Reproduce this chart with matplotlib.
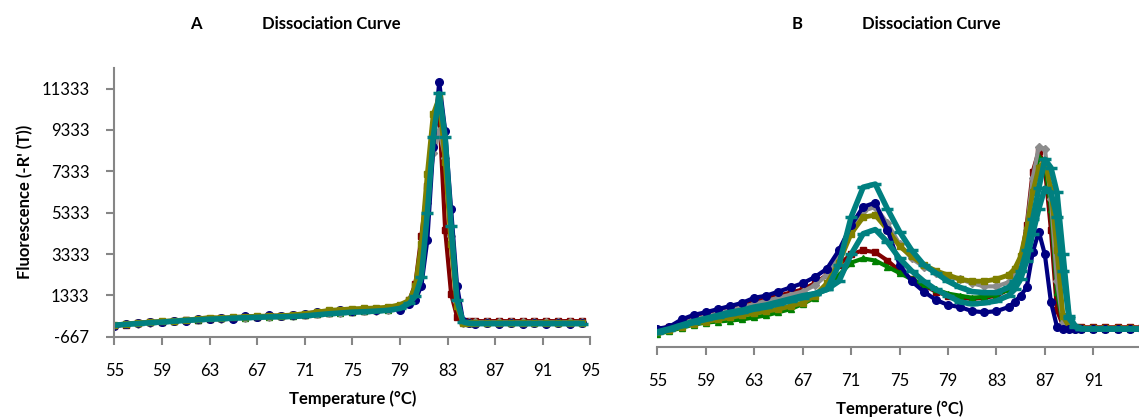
import numpy as np
import matplotlib.pyplot as plt

plt.rcParams['font.family'] = ['Lato', 'DejaVu Sans']
plt.rcParams['axes.unicode_minus'] = False

# ---- panel A data (temperature in C, fluorescence -R'(T)) ----
temp_a = [55, 56, 57, 58, 59, 60, 61, 62, 63, 64, 65, 66, 67, 68, 69, 70, 71, 72, 73, 74,
          75, 76, 77, 78, 79, 79.8, 80.3, 80.8, 81.3, 81.8, 82.3, 82.8, 83.3, 83.8, 84.3,
          84.8, 85.3, 86.3, 87.3, 88.3, 89.3, 90.3, 91.3, 92.3, 93.3, 94.3]

a_maroon = [-160, -80, 0, 50, 60, 80, 140, 150, 200, 220, 240, 290, 300, 330, 320, 360, 400,
            450, 500, 560, 520, 580, 610, 660, 760, 1100, 1900, 4200, 6600, 9200, 10200, 4500,
            1400, 300, 60, 80, 90, 80, 90, 80, 90, 80, 90, 80, 90, 80]
a_green = [-120, -60, -20, 20, 60, 100, 120, 150, 190, 220, 230, 260, 300, 280, 330, 340, 380,
           430, 470, 500, 530, 560, 600, 640, 750, 1000, 1600, 3400, 6400, 9400, 10600, 8400,
           4400, 1200, 30, 0, 0, 10, 0, 10, 0, 10, 0, 10, 0, 0]
a_gray = [-130, -70, -30, 10, 50, 90, 110, 160, 190, 200, 240, 260, 290, 300, 320, 330, 360,
          420, 460, 500, 540, 560, 590, 640, 720, 1000, 1500, 3000, 5800, 8200, 9300, 8000,
          4200, 1000, 0, 20, 30, 20, 30, 20, 30, 20, 30, 20, 30, 20]
a_olive = [-100, -50, 0, 40, 70, 110, 140, 190, 260, 240, 270, 300, 320, 330, 350, 380, 450,
           520, 600, 640, 680, 700, 720, 760, 880, 1100, 1800, 3800, 7200, 10100, 10900, 7800,
           3800, 800, -20, -10, 0, -10, 0, -10, 0, -10, 0, -10, 0, -10]
a_navy = [-140, -60, -10, 30, 30, 90, 110, 180, 170, 250, 200, 320, 280, 360, 330, 380, 440,
          520, 560, 620, 560, 650, 600, 700, 640, 900, 1100, 1800, 4000, 8500, 11650, 9300,
          5500, 1800, 100, -20, -30, -20, -30, -20, -30, -20, -30, -20, -30, -20]
a_teal = [-110, -70, -30, 10, 40, 80, 120, 150, 180, 200, 230, 250, 270, 290, 300, 310, 340,
          390, 440, 480, 520, 540, 570, 610, 700, 950, 1300, 2200, 5300, 9000, 11100, 9000,
          4700, 1100, 60, -20, -30, -30, -30, -30, -30, -30, -30, -30, -30, -30]

# ---- panel B data ----
temp_b = [55, 56, 57, 58, 59, 60, 61, 62, 63, 64, 65, 66, 67, 68, 69, 70, 71, 72, 73, 74,
          75, 76, 77, 78, 79, 80, 81, 82, 83, 84, 84.5, 85, 85.5, 86, 86.5, 87, 87.5, 88,
          88.5, 89, 89.5, 90, 91, 92, 93, 94, 95]

b_maroon = [150, 300, 500, 750, 900, 1050, 1200, 1350, 1500, 1650, 1800, 1950, 2100, 2400,
            2800, 3300, 3800, 4000, 3900, 3500, 3000, 2600, 2300, 2000, 1800, 1700, 1650, 1700,
            1800, 2100, 2600, 3500, 5200, 7800, 8800, 8000, 5000, 1100, 350, 300, 280, 270,
            270, 270, 270, 270, 270]
b_green = [-50, 80, 250, 400, 500, 550, 600, 650, 750, 850, 1000, 1150, 1400, 1700, 2200,
           2800, 3400, 3600, 3500, 3200, 2900, 2600, 2300, 2100, 1900, 1800, 1700, 1750, 1850,
           2100, 2500, 3300, 5000, 7200, 8500, 8300, 6000, 2000, 400, 250, 200, 200, 200, 200,
           200, 200, 200]
b_gray = [100, 250, 450, 650, 800, 950, 1100, 1250, 1400, 1550, 1700, 1850, 2000, 2300, 2800,
          3700, 5000, 5900, 6100, 5300, 4300, 3600, 3200, 2900, 2700, 2600, 2400, 2250, 2250,
          2450, 2800, 3300, 5000, 7500, 9000, 8900, 6500, 2500, 500, 250, 200, 180, 180, 180,
          180, 180, 180]
b_olive = [50, 150, 300, 450, 550, 650, 750, 850, 950, 1050, 1150, 1300, 1450, 1800, 2400,
           3400, 4800, 5600, 5700, 5000, 4200, 3700, 3300, 3000, 2800, 2600, 2500, 2500, 2600,
           2800, 3100, 3700, 5000, 6800, 8000, 8300, 7000, 4000, 800, 300, 250, 220, 220, 220,
           220, 220, 220]
b_navy = [200, 300, 650, 870, 1000, 1150, 1300, 1450, 1700, 1800, 2000, 2200, 2400, 2700,
          3100, 4000, 5200, 6100, 6300, 5000, 3300, 2500, 2000, 1600, 1350, 1250, 1050, 1000,
          1050, 1250, 1500, 1800, 2200, 3900, 4900, 3800, 1500, 300, 200, 180, 170, 170, 170,
          170, 170, 170, 170]
b_teal2 = [0, 150, 330, 500, 650, 780, 900, 1000, 1150, 1250, 1400, 1550, 1700, 1900, 2100,
           2500, 3800, 4800, 5000, 4400, 3600, 3000, 2500, 2100, 1800, 1500, 1400, 1450, 1550,
           1800, 2100, 2600, 3500, 4800, 6000, 7000, 6800, 5600, 3000, 700, 300, 200, 190,
           190, 190, 190, 190]
b_teal = [50, 200, 380, 560, 700, 850, 1000, 1100, 1250, 1350, 1500, 1650, 1800, 1900, 2100,
          3300, 5600, 7050, 7200, 6000, 4900, 4000, 3300, 2900, 2500, 2200, 2000, 1950, 1950,
          2200, 2500, 3000, 4000, 5500, 7000, 8400, 8000, 6800, 3800, 800, 350, 200, 190, 190,
          190, 190, 190]

yticks = [-667, 1333, 3333, 5333, 7333, 9333, 11333]
xticks_a = list(range(55, 96, 4))
xticks_b = list(range(55, 92, 4))

c_navy, c_maroon, c_green = '#000080', '#800000', '#008000'
c_gray, c_olive, c_teal = '#8c8c8c', '#808000', '#008080'
axis_col = '#868686'

fig = plt.figure(figsize=(11.39, 4.17), dpi=100)
ax_a = fig.add_axes([0.1004, 0.1926, 0.4179, 0.6444])
ax_b = fig.add_axes([0.5771, 0.1686, 0.4253, 0.6444])


def draw(ax, t, series):
    for y, col, mk, ms, lw in series:
        ax.plot(t, y, color=col, lw=lw, marker=mk, ms=ms, mec=col, mfc=col,
                mew=2.5 if mk == '_' else 1, solid_joinstyle='round')


draw(ax_a, temp_a, [
    (a_maroon, c_maroon, 's', 4.5, 3),
    (a_green, c_green, '^', 5, 3),
    (a_gray, c_gray, 'D', 4, 3),
    (a_navy, c_navy, 'o', 5.5, 3),
    (a_olive, c_olive, 's', 4.5, 3.5),
    (a_teal, c_teal, '_', 8, 4),
])
draw(ax_b, temp_b, [
    (b_maroon, c_maroon, 's', 4.5, 3),
    (b_green, c_green, '^', 5, 3),
    (b_gray, c_gray, 'D', 4, 3),
    (b_olive, c_olive, 's', 4.5, 3.5),
    (b_navy, c_navy, 'o', 5.5, 3),
    (b_teal2, c_teal, '_', 8, 4),
    (b_teal, c_teal, '_', 8, 4),
])

for ax, xt in ((ax_a, xticks_a), (ax_b, xticks_b)):
    ax.set_xlim(55, 95)
    ax.set_ylim(-667, 12333)
    ax.set_xticks(xt)
    ax.spines['top'].set_visible(False)
    ax.spines['right'].set_visible(False)
    ax.spines['bottom'].set_color(axis_col)
    ax.spines['bottom'].set_linewidth(1.5)
    ax.tick_params(axis='x', colors=axis_col, length=6, width=1.5, pad=13,
                   labelsize=12, labelcolor='black')
    ax.set_xlabel('Temperature (°C)', fontsize=12, fontweight='bold', labelpad=8)

ax_a.set_yticks(yticks)
ax_a.spines['left'].set_color(axis_col)
ax_a.spines['left'].set_linewidth(1.5)
ax_a.tick_params(axis='y', colors=axis_col, length=6, width=1.5, pad=12,
                 labelsize=12, labelcolor='black')
ax_a.set_ylabel("Fluorescence (-R' (T))", fontsize=12, fontweight='bold', labelpad=6)

ax_b.spines['left'].set_visible(False)
ax_b.set_yticks([])

fig.text(196 / 1139, 1 - 24 / 417, 'A', ha='center', va='center', fontsize=12, fontweight='bold')
fig.text(331 / 1139, 1 - 24 / 417, 'Dissociation Curve', ha='center', va='center',
         fontsize=12, fontweight='bold')
fig.text(797 / 1139, 1 - 24 / 417, 'B', ha='center', va='center', fontsize=12, fontweight='bold')
fig.text(931 / 1139, 1 - 24 / 417, 'Dissociation Curve', ha='center', va='center',
         fontsize=12, fontweight='bold')

fig.savefig('out.png', dpi=100)
